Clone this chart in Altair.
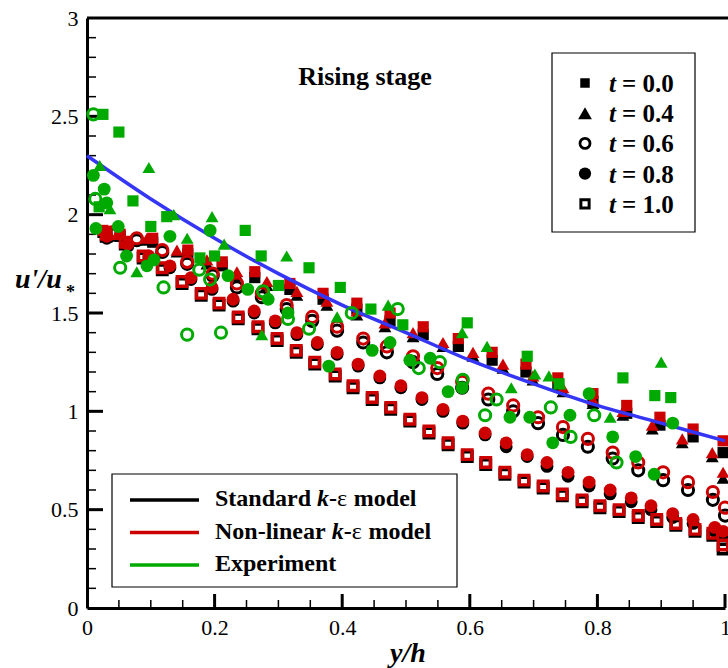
import altair as alt
import pandas as pd

# ------------------------------------------------------------------ data
# model results (Standard = black, Non-linear = red), one x grid per time
x_t00 = [0.025, 0.052, 0.103, 0.158, 0.212, 0.263, 0.318, 0.370, 0.423, 0.475,
         0.527, 0.582, 0.635, 0.688, 0.738, 0.793, 0.846, 0.898, 0.950, 0.997]
nl_t00 = [1.92, 1.90, 1.88, 1.82, 1.76, 1.71, 1.65, 1.60, 1.55, 1.50,
          1.43, 1.37, 1.30, 1.24, 1.17, 1.09, 1.03, 0.97, 0.91, 0.85]
std_t00 = [1.91, 1.89, 1.86, 1.80, 1.74, 1.68, 1.62, 1.57, 1.52, 1.46,
           1.39, 1.33, 1.26, 1.20, 1.13, 1.05, 0.99, 0.93, 0.87, 0.79]

x_t04 = [0.047, 0.094, 0.141, 0.188, 0.235, 0.282, 0.329, 0.376, 0.423, 0.467, 0.511,
         0.558, 0.605, 0.652, 0.699, 0.746, 0.793, 0.840, 0.886, 0.933, 0.980, 0.997]
nl_t04 = [1.90, 1.88, 1.82, 1.77, 1.71, 1.66, 1.61, 1.56, 1.51, 1.45, 1.40,
          1.35, 1.30, 1.24, 1.18, 1.12, 1.06, 1.00, 0.93, 0.86, 0.79, 0.69]
std_t04 = [1.89, 1.87, 1.81, 1.75, 1.69, 1.64, 1.59, 1.54, 1.49, 1.43, 1.38,
           1.33, 1.28, 1.22, 1.16, 1.10, 1.04, 0.98, 0.91, 0.84, 0.77, 0.66]

x_t06 = [0.039, 0.078, 0.118, 0.157, 0.197, 0.235, 0.274, 0.313, 0.353, 0.392, 0.433, 0.470, 0.511,
         0.549, 0.588, 0.629, 0.668, 0.707, 0.746, 0.785, 0.824, 0.864, 0.903, 0.942, 0.981, 1.000]
nl_t06 = [1.91, 1.88, 1.82, 1.76, 1.70, 1.65, 1.60, 1.54, 1.48, 1.43, 1.37, 1.33, 1.28,
          1.22, 1.15, 1.09, 1.03, 0.97, 0.92, 0.86, 0.79, 0.74, 0.69, 0.64, 0.59, 0.51]
std_t06 = [1.90, 1.87, 1.81, 1.75, 1.69, 1.63, 1.58, 1.52, 1.46, 1.41, 1.35, 1.30, 1.25,
           1.19, 1.12, 1.06, 1.00, 0.94, 0.88, 0.82, 0.76, 0.70, 0.65, 0.60, 0.55, 0.47]

x_t08 = [0.031, 0.064, 0.097, 0.130, 0.163, 0.196, 0.229, 0.262, 0.295, 0.329, 0.361,
         0.392, 0.425, 0.459, 0.492, 0.525, 0.558, 0.589, 0.624, 0.657, 0.690, 0.721,
         0.754, 0.787, 0.820, 0.853, 0.884, 0.918, 0.950, 0.984, 0.997]
nl_t08 = [1.89, 1.85, 1.79, 1.74, 1.68, 1.63, 1.57, 1.51, 1.46, 1.40, 1.35,
          1.30, 1.24, 1.18, 1.13, 1.07, 1.01, 0.95, 0.89, 0.84, 0.78, 0.74,
          0.69, 0.64, 0.60, 0.56, 0.52, 0.48, 0.45, 0.41, 0.39]
std_t08 = [1.88, 1.84, 1.78, 1.73, 1.67, 1.62, 1.56, 1.50, 1.45, 1.39, 1.34,
           1.29, 1.23, 1.17, 1.12, 1.06, 1.00, 0.94, 0.88, 0.82, 0.77, 0.72,
           0.67, 0.62, 0.58, 0.54, 0.50, 0.46, 0.43, 0.39, 0.37]

x_t10 = [0.030, 0.060, 0.088, 0.118, 0.149, 0.179, 0.207, 0.237, 0.268, 0.298, 0.328, 0.357,
         0.389, 0.417, 0.447, 0.476, 0.506, 0.536, 0.566, 0.596, 0.625, 0.655, 0.685, 0.715,
         0.745, 0.776, 0.804, 0.834, 0.864, 0.893, 0.923, 0.953, 0.981, 0.997]
nl_t10 = [1.90, 1.86, 1.79, 1.73, 1.66, 1.60, 1.55, 1.48, 1.43, 1.37, 1.31, 1.25,
          1.19, 1.13, 1.07, 1.02, 0.96, 0.90, 0.84, 0.78, 0.74, 0.69, 0.65, 0.62,
          0.58, 0.55, 0.52, 0.50, 0.47, 0.45, 0.43, 0.40, 0.38, 0.32]
std_t10 = [1.89, 1.85, 1.78, 1.72, 1.65, 1.59, 1.54, 1.47, 1.42, 1.36, 1.30, 1.24,
           1.18, 1.12, 1.06, 1.01, 0.95, 0.89, 0.83, 0.77, 0.73, 0.68, 0.64, 0.61,
           0.57, 0.54, 0.51, 0.49, 0.46, 0.44, 0.42, 0.39, 0.37, 0.30]

# experiment (green)
ex_x_t00 = [0.025, 0.050, 0.019, 0.072, 0.100, 0.125, 0.177, 0.200, 0.248, 0.273, 0.300,
            0.348, 0.397, 0.445, 0.495, 0.596, 0.690, 0.740, 0.840, 0.890, 0.915]
ex_y_t00 = [2.51, 2.42, 2.04, 2.07, 1.94, 1.99, 1.78, 1.79, 1.92, 1.79, 1.64,
            1.73, 1.63, 1.52, 1.44, 1.45, 1.28, 1.14, 1.17, 1.08, 1.07]
ex_x_t04 = [0.020, 0.036, 0.097, 0.136, 0.157, 0.196, 0.215, 0.078, 0.274, 0.313,
            0.392, 0.472, 0.588, 0.627, 0.665, 0.702, 0.724, 0.741, 0.820, 0.900]
ex_y_t04 = [2.25, 2.03, 2.24, 2.00, 1.88, 1.99, 1.85, 1.71, 1.39, 1.79,
            1.48, 1.54, 1.40, 1.33, 1.12, 1.19, 1.18, 1.14, 0.97, 1.25]
ex_x_t06 = [0.010, 0.013, 0.052, 0.120, 0.157, 0.176, 0.193, 0.210, 0.276, 0.315, 0.348,
            0.415, 0.487, 0.520, 0.553, 0.589, 0.624, 0.642, 0.727, 0.758, 0.795, 0.830]
ex_y_t06 = [2.51, 2.08, 1.73, 1.63, 1.39, 1.72, 1.67, 1.40, 1.61, 1.47, 1.42,
            1.50, 1.52, 1.22, 1.25, 1.16, 0.98, 1.06, 1.02, 0.87, 0.98, 0.74]
ex_x_t08 = [0.010, 0.014, 0.027, 0.031, 0.049, 0.062, 0.094, 0.105, 0.130, 0.193,
            0.221, 0.252, 0.284, 0.315, 0.379, 0.447, 0.475, 0.506, 0.538, 0.566,
            0.588, 0.663, 0.694, 0.730, 0.757, 0.787, 0.824, 0.860, 0.889, 0.918]
ex_y_t08 = [2.20, 1.93, 2.13, 2.06, 1.94, 1.79, 1.74, 1.77, 1.89, 1.92,
            1.69, 1.62, 1.57, 1.50, 1.23, 1.31, 1.35, 1.26, 1.27, 1.10,
            1.12, 0.97, 0.97, 0.84, 0.98, 1.09, 0.87, 0.77, 0.68, 0.94]

# blue reference curve
blue_x = [0.0, 0.1, 0.2, 0.3, 0.4, 0.5, 0.6, 0.7, 0.8, 0.9, 1.0]
blue_y = [2.30, 2.08, 1.88, 1.70, 1.54, 1.40, 1.26, 1.14, 1.03, 0.94, 0.85]

# axis ticks
x_major = [0.2, 0.4, 0.6, 0.8, 1.0]
x_minor = [0.05, 0.1, 0.15, 0.25, 0.3, 0.35, 0.45, 0.5, 0.55, 0.65, 0.7, 0.75, 0.85, 0.9, 0.95]
y_major = [0.5, 1.0, 1.5, 2.0, 2.5]
y_minor = [0.1, 0.2, 0.3, 0.4, 0.6, 0.7, 0.8, 0.9, 1.1, 1.2, 1.3, 1.4, 1.6, 1.7, 1.8, 1.9,
           2.1, 2.2, 2.3, 2.4, 2.6, 2.7, 2.8, 2.9]

t_names = ["0.0", "0.4", "0.6", "0.8", "1.0"]
model_names = ["Standard k-ε model", "Non-linear k-ε model", "Experiment"]
model_colors = ["#000000", "#CC0000", "#00AA00"]

series = {
    "Standard": {"0.0": (x_t00, std_t00), "0.4": (x_t04, std_t04), "0.6": (x_t06, std_t06),
                 "0.8": (x_t08, std_t08), "1.0": (x_t10, std_t10)},
    "Nonlinear": {"0.0": (x_t00, nl_t00), "0.4": (x_t04, nl_t04), "0.6": (x_t06, nl_t06),
                  "0.8": (x_t08, nl_t08), "1.0": (x_t10, nl_t10)},
    "Experiment": {"0.0": (ex_x_t00, ex_y_t00), "0.4": (ex_x_t04, ex_y_t04),
                   "0.6": (ex_x_t06, ex_y_t06), "0.8": (ex_x_t08, ex_y_t08)},
}
group_color = {"Standard": model_colors[0], "Nonlinear": model_colors[1], "Experiment": model_colors[2]}

# ------------------------------------------------------------------ style
W, H = 638, 590
FONT = "Liberation Serif"
xs = alt.Scale(domain=[0, 1], nice=False, zero=False)
ys = alt.Scale(domain=[0, 3], nice=False, zero=False)
xaxis = alt.Axis(values=[0, 0.2, 0.4, 0.6, 0.8, 1], format="~g", title=None, grid=False,
                 ticks=False, domainColor="black", domainWidth=3, labelFont=FONT,
                 labelFontSize=22, labelColor="black", labelPadding=9,
                 labelFlush=False, labelOverlap=False)
yaxis = alt.Axis(values=[0, 0.5, 1, 1.5, 2, 2.5, 3], format="~g", title=None, grid=False,
                 ticks=False, domainColor="black", domainWidth=3, labelFont=FONT,
                 labelFontSize=22, labelColor="black", labelPadding=9,
                 labelFlush=False, labelOverlap=False)


def X():
    return alt.X("x:Q", scale=xs, axis=xaxis)


def Y():
    return alt.Y("y:Q", scale=ys, axis=yaxis)


marker = {
    "0.0": dict(shape="square", filled=True, size=125, strokeWidth=0),
    "0.4": dict(shape="triangle-up", filled=True, size=165, strokeWidth=0),
    "0.6": dict(shape="circle", filled=False, size=125, strokeWidth=3),
    "0.8": dict(shape="circle", filled=True, size=165, strokeWidth=0),
    "1.0": dict(shape="square", filled=False, size=90, strokeWidth=3.4),
}
legend_marker = {
    "0.0": dict(shape="square", filled=True, size=90, strokeWidth=0),
    "0.4": dict(shape="triangle-up", filled=True, size=190, strokeWidth=0),
    "0.6": dict(shape="circle", filled=False, size=100, strokeWidth=2.8),
    "0.8": dict(shape="circle", filled=True, size=150, strokeWidth=0),
    "1.0": dict(shape="square", filled=False, size=68, strokeWidth=3),
}

layers = []

# inward ticks
layers.append(alt.Chart(pd.DataFrame({"x": x_minor})).mark_rule(color="black", strokeWidth=1.5)
              .encode(x=X(), y=alt.value(H), y2=alt.value(H - 8)))
layers.append(alt.Chart(pd.DataFrame({"x": x_major})).mark_rule(color="black", strokeWidth=3)
              .encode(x=X(), y=alt.value(H), y2=alt.value(H - 14)))
layers.append(alt.Chart(pd.DataFrame({"y": y_minor})).mark_rule(color="black", strokeWidth=1.5)
              .encode(y=Y(), x=alt.value(0), x2=alt.value(9)))
layers.append(alt.Chart(pd.DataFrame({"y": y_major})).mark_rule(color="black", strokeWidth=3)
              .encode(y=Y(), x=alt.value(0), x2=alt.value(16)))

# top frame line
one = pd.DataFrame({"k": [0]})
layers.append(alt.Chart(one).mark_rule(color="black", strokeWidth=3)
              .encode(x=alt.value(0), x2=alt.value(W + 10), y=alt.value(0)))


def points(group):
    out = []
    for t in t_names:
        if t not in series[group]:
            continue
        xv, yv = series[group][t]
        df = pd.DataFrame({"x": xv, "y": yv})
        m = marker[t]
        out.append(alt.Chart(df).mark_point(
            shape=m["shape"], filled=m["filled"], size=m["size"], strokeWidth=m["strokeWidth"],
            color=group_color[group], opacity=1).encode(x=X(), y=Y()))
    return out


layers += points("Standard")
layers += points("Nonlinear")

# blue curve
layers.append(alt.Chart(pd.DataFrame({"x": blue_x, "y": blue_y}))
              .mark_line(color="#3535F5", strokeWidth=3.5, interpolate="monotone")
              .encode(x=X(), y=Y()))

layers += points("Experiment")


def text(s, x, y, size, style="normal", weight="bold", align="left", baseline="alphabetic",
         font=FONT):
    return alt.Chart(one).mark_text(text=s, font=font, fontSize=size, fontStyle=style,
                                    fontWeight=weight, align=align, baseline=baseline,
                                    color="black").encode(x=alt.value(x), y=alt.value(y))


# "Rising stage"
layers.append(text("Rising stage", 278, 67, 26, align="center"))

# axis titles
layers.append(text("u'/u", -72, 270, 28, style="italic"))
layers.append(text("*", -21, 280, 18))
layers.append(text("y/h", 321, 644, 28, style="italic", align="center"))

# ---- time legend (top right)
layers.append(alt.Chart(one).mark_rect(fill="white", stroke="black", strokeWidth=1.2)
              .encode(x=alt.value(465), x2=alt.value(608), y=alt.value(35), y2=alt.value(214)))
for i, t in enumerate(t_names):
    cy = 65 + 30.2 * i
    m = legend_marker[t]
    layers.append(alt.Chart(one).mark_point(
        shape=m["shape"], filled=m["filled"], size=m["size"], strokeWidth=m["strokeWidth"],
        color="black", opacity=1).encode(x=alt.value(498), y=alt.value(cy)))
    layers.append(text("t", 522, cy + 9, 25, style="italic"))
    layers.append(text("= " + t, 535, cy + 9, 25))

# ---- model legend (bottom left)
layers.append(alt.Chart(one).mark_rect(fill="white", stroke="black", strokeWidth=1.2)
              .encode(x=alt.value(25), x2=alt.value(370), y=alt.value(456), y2=alt.value(569)))

BW = {" ": 0.25, "S": 0.556, "t": 0.333, "a": 0.5, "n": 0.556, "d": 0.556, "r": 0.444,
      "N": 0.722, "o": 0.5, "-": 0.333, "l": 0.278, "i": 0.278, "e": 0.444, "m": 0.833}
LS = 24
for i, name in enumerate(model_names):
    ly = 482 + 32.5 * i
    layers.append(alt.Chart(one).mark_rule(color=model_colors[i], strokeWidth=3.5)
                  .encode(x=alt.value(43), x2=alt.value(112), y=alt.value(ly)))
    by = ly + 6
    if "k-ε" in name:
        head = name.split(" k-ε")[0]
        x0 = 128
        layers.append(text(head, x0, by, LS))
        x0 += sum(BW.get(c, 0.5) for c in head) * LS + 0.25 * LS
        layers.append(text("k", x0, by, LS, style="italic"))
        x0 += 0.5 * LS
        layers.append(text("-", x0, by, LS))
        x0 += 0.333 * LS
        layers.append(text("ε", x0, by, LS, weight="normal"))
        x0 += 0.45 * LS + 0.25 * LS
        layers.append(text("model", x0, by, LS))
    else:
        layers.append(text(name, 128, by, LS))

chart = alt.layer(*layers).properties(
    width=W, height=H,
    autosize=alt.AutoSizeParams(type="none"),
    padding={"left": 87, "top": 18, "right": 3, "bottom": 60},
).configure_view(stroke=None)

chart.save("out.html", embed_options={"renderer": "svg", "actions": False})
